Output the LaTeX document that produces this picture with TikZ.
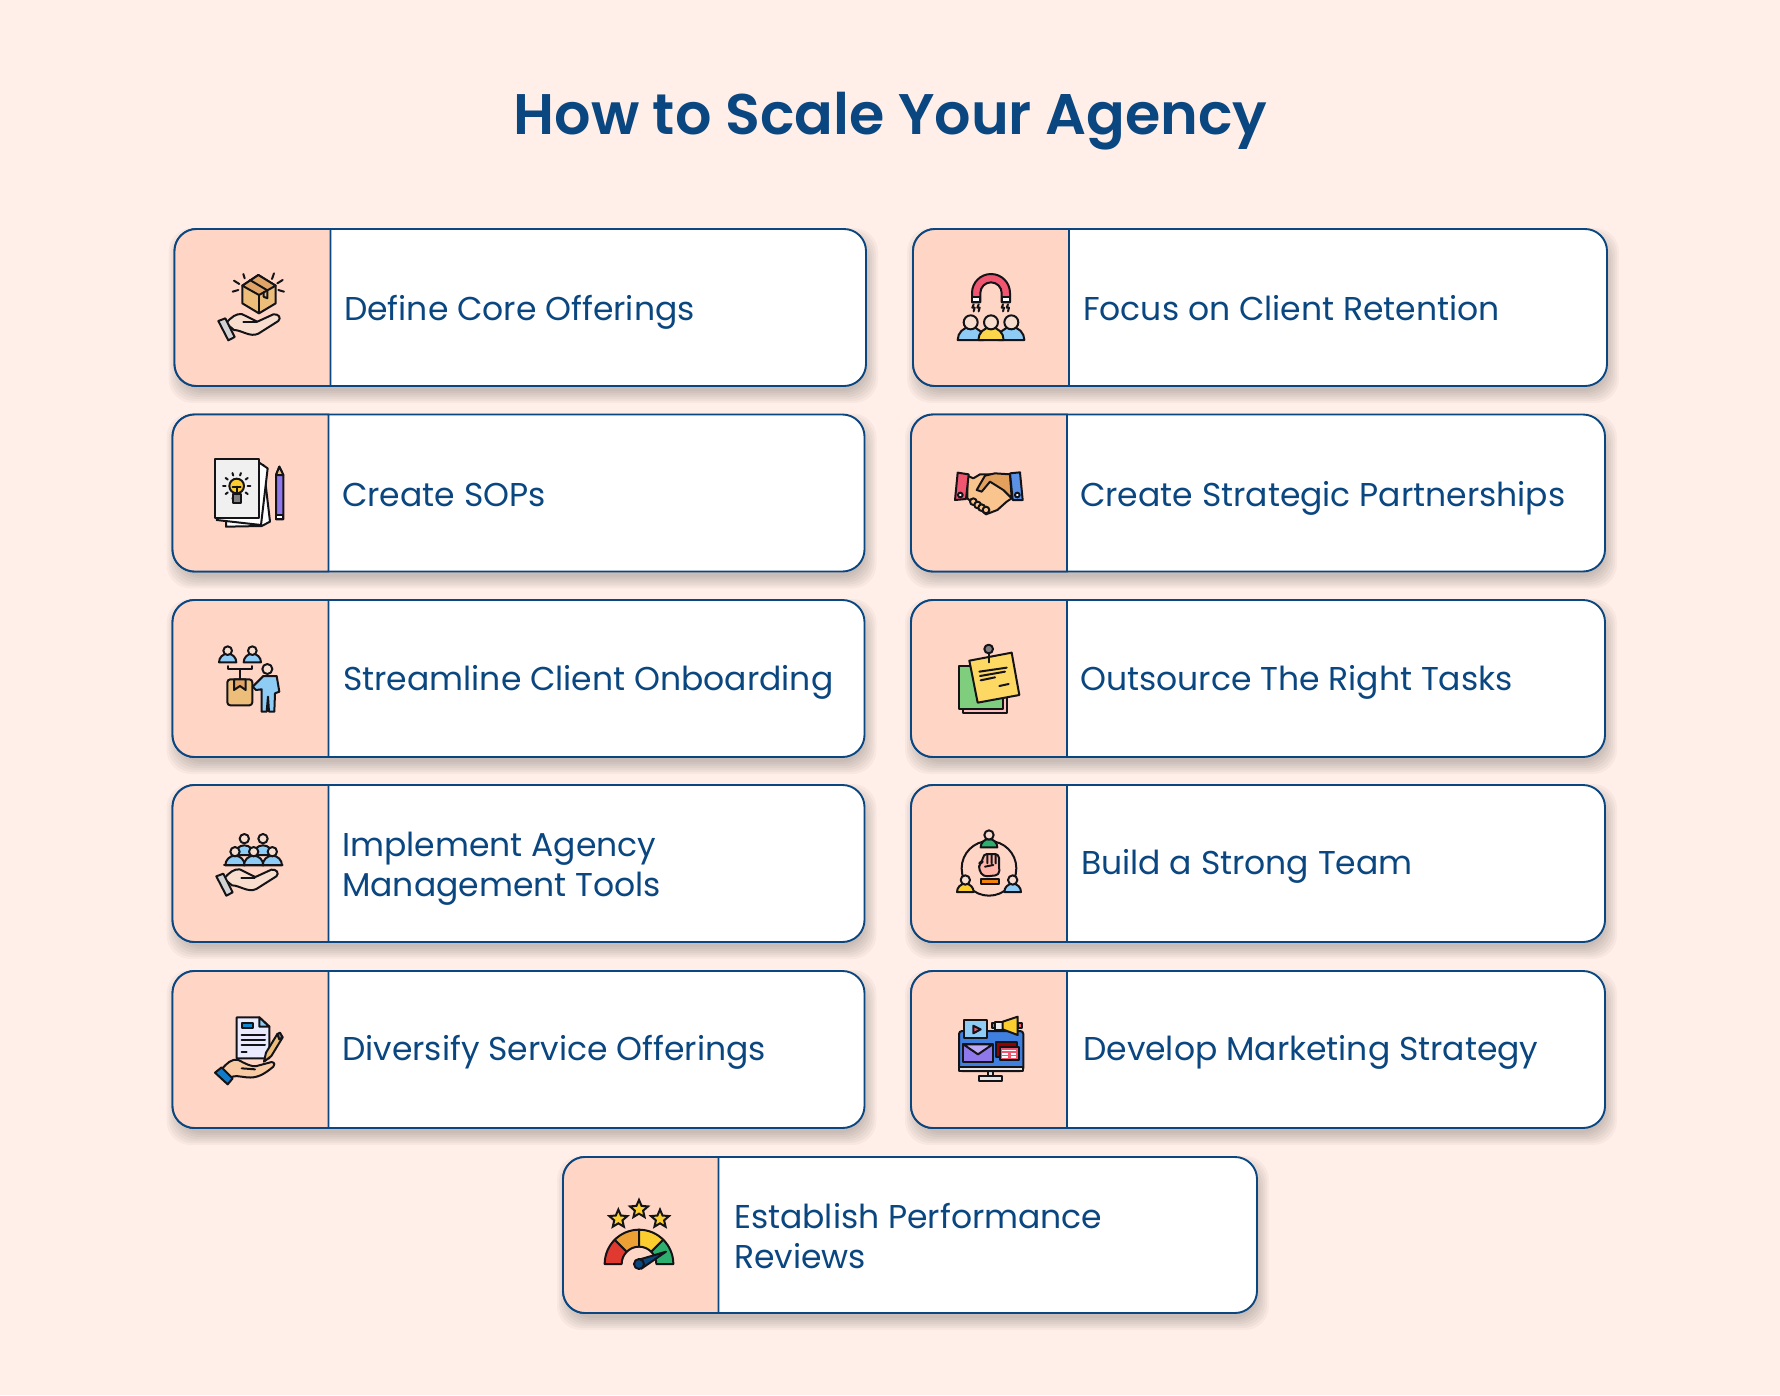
\documentclass[tikz,border=0pt]{standalone}
\usepackage{fontspec}
\setmainfont{Poppins}
\newfontfamily\headfont{Poppins SemiBold}
\usetikzlibrary{shapes.geometric}
\definecolor{sc_bg}{RGB}{255, 239, 232}
\definecolor{sc_panel}{RGB}{255, 213, 197}
\definecolor{sc_navy}{RGB}{10, 70, 128}
\definecolor{sc_ink}{RGB}{20, 20, 24}
\definecolor{sc_sky}{RGB}{142, 203, 245}
\definecolor{sc_tan}{RGB}{236, 190, 122}
\definecolor{sc_tan2}{RGB}{224, 164, 102}
\definecolor{sc_skin}{RGB}{247, 222, 206}
\definecolor{sc_peel}{RGB}{249, 196, 141}
\definecolor{sc_rose}{RGB}{240, 86, 111}
\definecolor{sc_lilac}{RGB}{143, 120, 236}
\definecolor{sc_lilac2}{RGB}{188, 170, 247}
\definecolor{sc_mon}{RGB}{63, 127, 224}
\definecolor{sc_gauge1}{RGB}{224, 57, 47}
\definecolor{sc_gauge2}{RGB}{237, 161, 53}
\definecolor{sc_gauge3}{RGB}{251, 205, 46}
\definecolor{sc_gauge4}{RGB}{45, 176, 111}
\tikzstyle{cd}=[rectangle,rounded corners=22pt,fill=white,draw=sc_navy,
  line width=1.9pt,inner sep=0pt]
\tikzstyle{lb}=[anchor=base west,inner sep=0pt,text=sc_navy,font=\fontsize{33}{40}\selectfont]
\tikzstyle{ic}=[draw=sc_ink,line width=2pt,line join=round,line cap=round]
\tikzstyle{sr}=[star,star points=5,star point ratio=2.2,fill=sc_gauge3,draw=sc_ink,
  line width=2pt,inner sep=0pt,minimum size=19pt]
% x0, y0, divider, x1, y1, name
\newcommand{\cardrow}[6]{
  \foreach \g in {-3,-1,...,9}
    \fill [black, opacity=0.03, rounded corners=24pt]
      ({#1+3-\g},{#2+8-\g}) rectangle ({#4+3+\g},{#5+8+\g});
  \node [style=cd, minimum width={(#4-#1)*1pt}, minimum height={(#5-#2)*1pt}]
    (#6) at ({(#1+#4)/2},{(#2+#5)/2}) {};
  \draw [fill=sc_panel, draw=sc_navy, line width=1.9pt] (#3,#2) -- ({#1+22},#2)
    arc (270:180:22) -- (#1,{#5-22}) arc (180:90:22) -- (#3,#5) -- cycle;
}
% head x, head y, head radius, base y, half width, fill
\newcommand{\pers}[6]{
  \draw [style=ic, fill=#6] ({#1-#5},#4) arc (180:360:#5) -- cycle;
  \draw [style=ic, fill=sc_skin] (#1,#2) circle (#3);
}
\newcommand{\openhand}{
  \draw [style=ic, fill=sc_skin] (198,325) .. controls (215,305) and (228,296) .. (245,297)
    .. controls (262,305) and (275,312) .. (292,320) -- (340,298)
    .. controls (355,296) and (365,308) .. (355,318)
    -- (295,356) .. controls (270,368) and (245,345) .. (222,345) -- cycle;
  \draw [style=ic] (250,322) -- (290,322);
  \draw [style=ic, fill=gray!35] (175,318) -- (196,310) -- (224,366) -- (205,376) -- cycle;
}
\begin{document}
\begin{tikzpicture}[x=1pt,y=1pt,yscale=-1]
    \fill [sc_bg] (0,0) rectangle (1780,1395);
    \useasboundingbox (0,0) rectangle (1780,1395);
    \node [text=sc_navy, font=\fontsize{57.2}{64}\headfont, anchor=base, inner sep=0pt] (title) at (890.5,134) {How to Scale Your Agency};

    \cardrow{174.5}{229}{330.5}{866}{386}{c0}
    \cardrow{172.5}{414.5}{328.5}{864.5}{571.5}{c1}
    \cardrow{172.5}{600}{328.5}{864.5}{757}{c2}
    \cardrow{172.5}{785}{328.5}{864.5}{942}{c3}
    \cardrow{172.5}{971}{328.5}{864.5}{1128}{c4}
    \cardrow{913}{229}{1069}{1607}{386}{c5}
    \cardrow{911}{414.5}{1067}{1605}{571.5}{c6}
    \cardrow{911}{600}{1067}{1605}{757}{c7}
    \cardrow{911}{785}{1067}{1605}{942}{c8}
    \cardrow{911}{971}{1067}{1605}{1128}{c9}
    \cardrow{563}{1157}{718.5}{1257}{1313}{c10}

    \node [style=lb] (0) at (344,320) {Define Core Offerings};
    \node [style=lb] (1) at (342,506) {Create SOPs};
    \node [style=lb] (2) at (343,690) {Streamline Client Onboarding};
    \node [style=lb] (3) at (342,856) {Implement Agency};
    \node [style=lb] (4) at (342,896) {Management Tools};
    \node [style=lb] (5) at (342,1060) {Diversify Service Offerings};
    \node [style=lb] (6) at (1083,320) {Focus on Client Retention};
    \node [style=lb] (7) at (1080,506) {Create Strategic Partnerships};
    \node [style=lb] (8) at (1080,690) {Outsource The Right Tasks};
    \node [style=lb] (9) at (1081,874) {Build a Strong Team};
    \node [style=lb] (10) at (1083,1060) {Develop Marketing Strategy};
    \node [style=lb] (11) at (734,1228) {Establish Performance};
    \node [style=lb] (12) at (734,1268) {Reviews};

    % box on a hand
    \begin{scope}[shift={(160,215)},scale=1/3]
      \draw [style=ic, fill=sc_tan] (295,180) -- (347,212) -- (347,265) -- (297,295) -- (247,265) -- (247,212) -- cycle;
      \draw [style=ic, fill=sc_tan2] (295,180) -- (347,212) -- (297,240) -- (247,212) -- cycle;
      \draw [style=ic] (297,240) -- (297,295);
      \draw [style=ic] (270,195) -- (322,226) -- (322,250) -- (311,245) -- (311,232);
      \foreach \a/\b/\c/\d in {222/197/238/207, 250/177/254/190, 342/175/336/192, 368/195/352/205, 218/230/235/225, 372/230/355/225}
        \draw [style=ic] (\a,\b) -- (\c,\d);
      \openhand
    \end{scope}

    % sheets and a pencil
    \begin{scope}[shift={(160,410)},scale=1/3]
      \draw [style=ic, fill=white] (198,350) -- (305,348) -- (330,335) -- (310,165) -- (200,200) -- cycle;
      \draw [style=ic, fill=white] (170,330) -- (303,345) -- (323,175) -- (298,158) -- cycle;
      \draw [style=ic, fill=gray!12] (165,148) rectangle (298,325);
      \foreach \a in {0,36,...,324}
        \draw [style=ic] ({230+33*cos(\a)},{228+33*sin(\a)}) -- ({230+41*cos(\a)},{228+41*sin(\a)});
      \draw [style=ic, fill=sc_gauge3] (230,228) circle (22);
      \draw [style=ic, fill=gray] (218,253) rectangle (244,279);
      \draw [style=ic] (218,230) -- (242,230) (230,230) -- (230,252);
      \draw [style=ic, fill=sc_lilac] (348,195) -- (358,170) -- (370,195) -- (370,328) -- (348,328) -- cycle;
      \draw [style=ic, fill=sc_tan] (348,195) -- (358,170) -- (370,195) -- cycle;
      \draw [style=ic, fill=white] (348,315) rectangle (370,328);
    \end{scope}

    % two people, a parcel and a person
    \begin{scope}[shift={(160,410)},scale=1/3]
      \pers{203}{722}{13}{757}{26}{sc_sky}
      \pers{277}{722}{13}{757}{26}{sc_sky}
      \draw [style=ic] (203,768) -- (203,778) -- (277,778) -- (277,768) (240,778) -- (240,808);
      \draw [style=ic, fill=sc_tan, rounded corners=3pt] (202,808) rectangle (277,886);
      \draw [style=ic, fill=sc_tan2] (222,808) -- (257,808) -- (257,840) -- (240,828) -- (222,840) -- cycle;
      \draw [style=ic, fill=sc_sky] (278,830) -- (310,798) -- (350,798) -- (358,845) -- (345,850) -- (343,905) -- (327,905) -- (324,860) -- (320,905) -- (305,905) -- (305,838) -- (288,840) -- cycle;
      \draw [style=ic, fill=sc_skin] (322,777) circle (15);
    \end{scope}

    % team on a hand
    \begin{scope}[shift={(160,780)},scale=1/3]
      \pers{253}{176}{14}{225}{29}{sc_sky}
      \pers{309}{176}{14}{225}{29}{sc_sky}
      \pers{225}{215}{14}{256}{29}{sc_sky}
      \pers{281}{215}{14}{256}{29}{sc_sky}
      \pers{337}{215}{14}{256}{29}{sc_sky}
      \draw [style=ic] (192,256) -- (368,256);
      \begin{scope}[shift={(-6,-29)}]
        \openhand
      \end{scope}
    \end{scope}

    % document, pencil and hand
    \begin{scope}[shift={(160,780)},scale=1/3]
      \draw [style=ic, fill=blue!8] (230,712) -- (298,712) -- (328,740) -- (328,835) -- (230,835) -- cycle;
      \draw [style=ic, fill=sc_sky] (298,712) -- (298,740) -- (328,740) -- cycle;
      \draw [style=ic, fill=cyan!70!blue] (245,728) rectangle (278,745);
      \draw [style=ic] (245,765) -- (315,765) (245,780) -- (315,780) (245,795) -- (315,795) (245,815) -- (260,815);
      \draw [style=ic, fill=sc_tan] (312,845) -- (318,818) -- (352,762) -- (368,772) -- (334,828) -- cycle;
      \draw [style=ic, fill=gray] (352,762) -- (360,758) -- (368,772) -- (358,778) -- cycle;
      \draw [style=ic, fill=sc_skin!80!orange] (185,868) .. controls (200,850) and (215,835) .. (235,840)
        .. controls (255,850) and (275,862) .. (290,858) -- (335,846) .. controls (345,848) and (345,855) .. (340,860)
        .. controls (310,885) and (290,895) .. (260,892) .. controls (240,890) and (225,885) .. (212,892) -- cycle;
      \draw [style=ic] (245,865) -- (285,868);
      \draw [style=ic, fill=cyan!60!blue] (165,878) -- (185,862) -- (218,895) -- (203,913) -- cycle;
    \end{scope}

    % magnet and people
    \begin{scope}[shift={(910,225)},scale=1/3]
      \draw [style=ic, fill=sc_rose] (186,232) -- (186,204) arc (180:360:57) -- (300,232) -- (275,232) -- (275,204) arc (360:180:32) -- (211,232) -- cycle;
      \draw [style=ic, fill=white] (187,216) rectangle (211,232);
      \draw [style=ic, fill=white] (275,216) rectangle (299,232);
      \foreach \a in {191,206,279,294}
        \draw [style=ic] (\a,238) -- ({\a-4},248) -- ({\a+3},248) -- (\a,259);
      \pers{182}{292}{21}{345}{39}{sc_sky}
      \pers{304}{292}{21}{345}{39}{sc_sky}
      \pers{243}{292}{21}{345}{38}{yellow!60!orange!70}
    \end{scope}

    % handshake
    \begin{scope}[shift={(910,225)},scale=1/3]
      \draw [style=ic, fill=sc_peel] (172,752) -- (190,760) -- (210,748) -- (300,748) -- (305,820) -- (290,830) -- (262,855) -- (228,868) -- (172,820) -- cycle;
      \draw [style=ic, fill=sc_tan2!90!orange] (200,795) -- (225,752) -- (255,745) -- (300,748) -- (305,820) -- (280,795) -- (240,770) -- (215,800) -- cycle;
      \foreach \a/\b in {190/830,203/840,215/848,228/855}
        \draw [style=ic, fill=sc_peel] (\a,\b) circle (10);
      \draw [style=ic, fill=sc_rose] (143,743) -- (176,748) -- (168,822) -- (135,825) -- cycle;
      \draw [style=ic, fill=white] (151,810) circle (7);
      \draw [style=ic, fill=sc_mon!85!white] (300,745) -- (330,742) -- (338,825) -- (308,825) -- cycle;
      \draw [style=ic, fill=white] (322,810) circle (7);
    \end{scope}

    % notes with a pin
    \begin{scope}[shift={(910,600)},scale=1/3]
      \draw [style=ic, fill=pink] (158,230) rectangle (290,340);
      \draw [style=ic, fill=green!45!gray!70] (147,197) rectangle (280,327);
      \draw [style=ic, fill=yellow!55!orange!60] (178,182) -- (305,158) -- (328,285) -- (203,308) -- cycle;
      \draw [style=ic] (236,160) -- (236,187);
      \draw [style=ic, fill=gray] (236,147) circle (13);
      \draw [style=ic] (208,215) -- (290,203) (210,228) -- (285,215) (212,241) -- (255,232) (268,258) -- (296,252);
    \end{scope}

    % fist in a ring of people
    \begin{scope}[shift={(910,600)},scale=1/3]
      \draw [style=ic] (237,805) circle (82);
      \pers{237}{705}{14}{742}{25}{sc_gauge4}
      \pers{166}{840}{14}{876}{25}{sc_gauge3}
      \pers{308}{840}{14}{876}{25}{sc_sky}
      \draw [style=ic, fill=sc_panel!85!red, rounded corners=4pt] (207,790) -- (219,785) -- (219,762) -- (267,762) -- (268,825) -- (220,830) -- (207,810) -- cycle;
      \draw [style=ic] (232,762) -- (232,790) (245,762) -- (245,790) (257,762) -- (257,790) (225,800) -- (250,795);
      \draw [style=ic, fill=orange!80!brown] (213,838) rectangle (267,853);
    \end{scope}

    % monitor and megaphone
    \begin{scope}[shift={(910,960)},scale=1/3]
      \draw [style=ic, fill=gray!20] (235,333) rectangle (250,348);
      \draw [style=ic, fill=gray!20] (208,348) rectangle (277,363);
      \draw [style=ic, fill=sc_mon, rounded corners=3pt] (147,213) rectangle (340,333);
      \draw [style=ic, fill=gray!20] (147,320) rectangle (340,333);
      \draw [style=ic, fill=sc_sky] (162,180) rectangle (232,235);
      \draw [style=ic, fill=sc_rose] (190,197) -- (212,208) -- (190,220) -- cycle;
      \draw [style=ic, fill=sc_rose] (245,190) rectangle (256,205);
      \draw [style=ic, fill=sc_rose] (323,190) rectangle (335,205);
      \draw [style=ic, fill=gray!15] (255,185) rectangle (278,210);
      \draw [style=ic, fill=sc_gauge3] (278,185) -- (323,170) -- (323,225) -- (278,208) -- cycle;
      \draw [style=ic, fill=sc_lilac] (160,253) rectangle (248,307);
      \draw [style=ic, fill=sc_lilac2] (160,253) -- (204,283) -- (248,253) -- cycle;
      \draw [style=ic, fill=red!60!black] (258,247) rectangle (320,290);
      \draw [style=ic, fill=sc_rose] (270,262) rectangle (326,300);
      \draw [draw=white, line width=1.2pt] (277,272) -- (318,272) (277,282) -- (295,282) (302,282) -- (318,282) (277,291) -- (295,291) (302,291) -- (318,291);
    \end{scope}

    % gauge and stars
    \begin{scope}[shift={(560,1150)},scale=1/3]
      \foreach \a/\b/\c in {180/225/sc_gauge1,225/270/sc_gauge2,270/315/sc_gauge3,315/360/sc_gauge4}
        \draw [style=ic, fill=\c] ({237+103*cos(\a)},{342+103*sin(\a)}) arc (\a:\b:103)
          -- ({237+52*cos(\b)},{342+52*sin(\b)}) arc (\b:\a:52) -- cycle;
      \node [style=sr] (s0) at (175,207) {};
      \node [style=sr] (s1) at (237,178) {};
      \node [style=sr] (s2) at (300,207) {};
      \draw [style=ic, fill=sc_navy] (240,328) -- (318,305) -- (244,356) -- cycle;
      \draw [style=ic, fill=sc_navy] (237,342) circle (15);
    \end{scope}
\end{tikzpicture}
\end{document}
